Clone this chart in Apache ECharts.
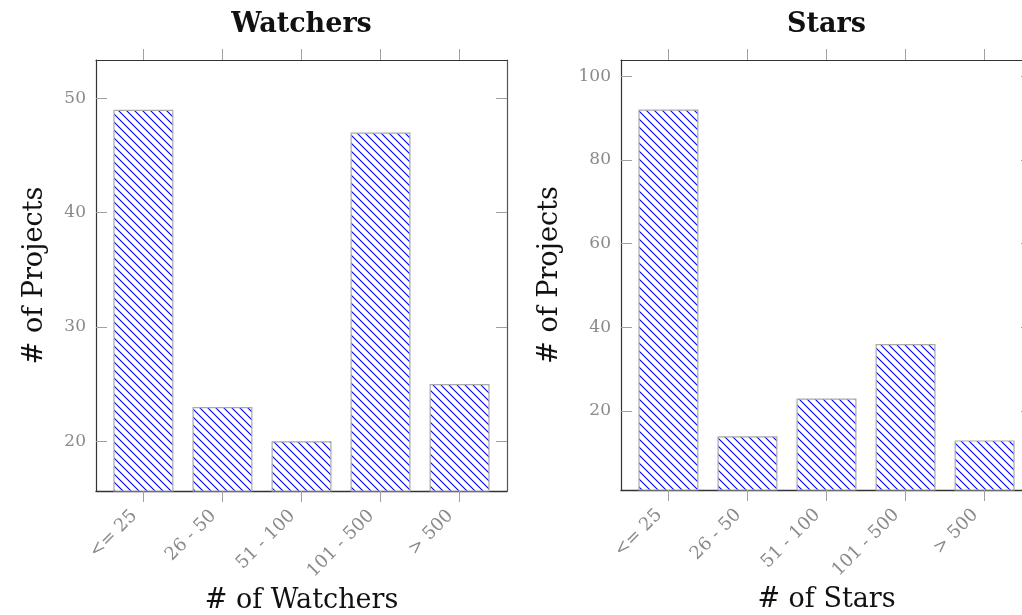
<!DOCTYPE html>
<html>
<head>
<meta charset="utf-8">
<script src="https://cdn.jsdelivr.net/npm/echarts@6/dist/echarts.min.js"></script>
<style>
html,body{margin:0;padding:0;background:#fff;}
#chart{width:1022px;height:615px;}
</style>
</head>
<body>
<div id="chart"></div>
<script>
// ---- data ----
const categories = ['<= 25', '26 - 50', '51 - 100', '101 - 500', '> 500'];
const watchers = [49, 23, 20, 47, 25];
const stars = [92, 14, 23, 36, 13];
const watcherTicks = [20, 30, 40, 50];
const starTicks = [20, 40, 60, 80, 100];
const catTicks = [0, 1, 2, 3, 4];
const titles = ['Watchers', 'Stars'];
const xNames = ['# of Watchers', '# of Stars'];
const yName = '# of Projects';

// ---- hatch pattern ----
const pat = document.createElement('canvas');
pat.width = 8; pat.height = 8;
const pc = pat.getContext('2d');
pc.fillStyle = '#ffffff'; pc.fillRect(0, 0, 8, 8);
pc.strokeStyle = '#0000ff'; pc.lineWidth = 1.1;
pc.beginPath();
pc.moveTo(-2, -2); pc.lineTo(10, 10);
pc.moveTo(-10, -2); pc.lineTo(2, 10);
pc.moveTo(6, -2); pc.lineTo(18, 10);
pc.stroke();

const FONT = 'DejaVu Serif';
const labelColor = '#8a8a8a';
const tickColor = '#a0a0a0';
const lineColor = '#333333';

function yRange(vals) {
  const mn = Math.min(...vals), mx = Math.max(...vals);
  const pad = 0.15 * (mx - mn);
  return [mn - pad, mx + pad];
}
const wr = yRange(watchers);
const sr = yRange(stars);

const grids = [
  {left: 96, top: 60, width: 411, height: 431, outerBoundsMode: 'none', containLabel: false},
  {left: 621, top: 60, width: 411, height: 430, outerBoundsMode: 'none', containLabel: false}
];

function xAxes(gi, name, title) {
  return [
    {
      type: 'value', gridIndex: gi, position: 'bottom', min: -0.6, max: 4.6,
      axisLine: {show: true, onZero: false, lineStyle: {color: lineColor, width: 1.4}},
      axisTick: {show: true, inside: false, length: 11, customValues: catTicks, lineStyle: {color: tickColor, width: 1}},
      axisLabel: {show: true, customValues: catTicks, rotate: 45, margin: 13, padding: [0, 13, 0, 0],
        color: labelColor, fontFamily: FONT, fontSize: 18,
        formatter: v => categories[Math.round(v)]},
      splitLine: {show: false},
      name: name, nameLocation: 'middle', nameGap: 94,
      nameTextStyle: {fontFamily: FONT, fontSize: 27, color: '#111'}
    },
    {
      type: 'value', gridIndex: gi, position: 'top', min: -0.6, max: 4.6,
      axisLine: {show: true, onZero: false, lineStyle: {color: lineColor, width: 1.2}},
      axisTick: {show: true, inside: false, length: 11, customValues: catTicks, lineStyle: {color: tickColor, width: 1}},
      axisLabel: {show: false},
      splitLine: {show: false},
      name: title, nameLocation: 'middle', nameGap: 22,
      nameTextStyle: {fontFamily: FONT, fontSize: 27, fontWeight: 'bold', color: '#111'}
    }
  ];
}

function yAxes(gi, rng, ticks, gap) {
  return [
    {
      type: 'value', gridIndex: gi, position: 'left', min: rng[0], max: rng[1],
      axisLine: {show: true, onZero: false, lineStyle: {color: lineColor, width: 1.2}},
      axisTick: {show: true, inside: true, length: 11, customValues: ticks, lineStyle: {color: tickColor, width: 1}},
      axisLabel: {show: true, customValues: ticks, margin: 10, color: labelColor, fontFamily: FONT, fontSize: 17},
      splitLine: {show: false},
      name: yName, nameLocation: 'middle', nameGap: gap,
      nameTextStyle: {fontFamily: FONT, fontSize: 27, color: '#111'}
    },
    {
      type: 'value', gridIndex: gi, position: 'right', min: rng[0], max: rng[1],
      axisLine: {show: true, onZero: false, lineStyle: {color: '#555', width: 1.2}},
      axisTick: {show: true, inside: true, length: 11, customValues: ticks, lineStyle: {color: tickColor, width: 1}},
      axisLabel: {show: false},
      splitLine: {show: false}
    }
  ];
}

function barSeries(vals, xi, yi) {
  return {
    type: 'bar', xAxisIndex: xi, yAxisIndex: yi, barWidth: 60,
    data: vals.map((v, i) => [catTicks[i], v]),
    itemStyle: {color: {image: pat, repeat: 'repeat'}, borderColor: '#aaaaaa', borderWidth: 1.2},
    emphasis: {disabled: true},
    silent: true
  };
}

const chart = echarts.init(document.getElementById('chart'), null, {renderer: 'canvas'});
chart.setOption({
  animation: false,
  grid: grids,
  xAxis: [...xAxes(0, xNames[0], titles[0]), ...xAxes(1, xNames[1], titles[1])],
  yAxis: [...yAxes(0, wr, watcherTicks, 48), ...yAxes(1, sr, starTicks, 58)],
  series: [barSeries(watchers, 0, 0), barSeries(stars, 2, 2)]
});
</script>
</body>
</html>
